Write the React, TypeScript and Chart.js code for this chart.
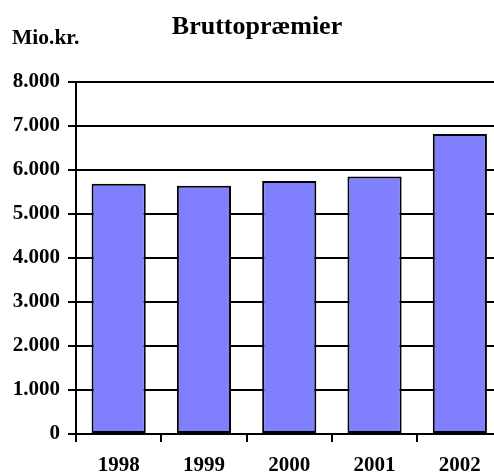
import React, { useEffect, useRef } from "react";
import { Chart, registerables } from "chart.js";

Chart.register(...registerables);

const categories = ["1998", "1999", "2000", "2001", "2002"];
const premiums = [5690, 5640, 5750, 5850, 6820];
const yTicks = [0, 1000, 2000, 3000, 4000, 5000, 6000, 7000, 8000];
const titleText = "Bruttopræmier";
const unitText = "Mio.kr.";

function fmt(v: number): string {
  const s = Math.round(v).toString();
  return s.replace(/\B(?=(\d{3})+(?!\d))/g, ".");
}

const FONT = "'Liberation Serif', 'Times New Roman', serif";

export default function App() {
  const ref = useRef<HTMLCanvasElement | null>(null);

  useEffect(() => {
    if (!ref.current) return;
    const textPlugin = {
      id: "texts",
      afterDraw(chart: any) {
        const ctx = chart.ctx;
        ctx.save();
        ctx.fillStyle = "#000";
        ctx.textBaseline = "alphabetic";
        ctx.textAlign = "center";
        ctx.font = `bold 26px ${FONT}`;
        ctx.fillText(titleText, 257, 34);
        ctx.textAlign = "left";
        ctx.font = `bold 21.5px ${FONT}`;
        ctx.fillText(unitText, 12, 44);
        ctx.restore();
      },
    };
    const chart = new Chart(ref.current, {
      type: "bar",
      data: {
        labels: categories,
        datasets: [
          {
            data: premiums,
            backgroundColor: "#8080FF",
            borderColor: "#000",
            borderWidth: 2,
            borderSkipped: false,
            barPercentage: 0.635,
            categoryPercentage: 1,
          },
        ],
      },
      options: {
        animation: false,
        responsive: false,
        maintainAspectRatio: false,
        layout: { padding: { top: 82, right: 2.5, left: 0, bottom: 0 } },
        plugins: {
          legend: { display: false },
          tooltip: { enabled: false },
          title: { display: false },
        },
        scales: {
          x: {
            afterFit: (s: any) => {
              s.height = 39;
            },
            grid: {
              offset: true,
              drawOnChartArea: false,
              color: "#000",
              lineWidth: 2,
              tickLength: 8,
            },
            border: { display: true, color: "#000", width: 2 },
            ticks: {
              color: "#000",
              padding: 11,
              font: { family: FONT, size: 21, weight: "bold" },
            },
          },
          y: {
            min: 0,
            max: 8000,
            afterFit: (s: any) => {
              s.width = 76;
            },
            afterBuildTicks: (s: any) => {
              s.ticks = yTicks.map((v) => ({ value: v }));
            },
            grid: {
              color: "#000",
              lineWidth: 2,
              tickLength: 8,
            },
            border: { display: true, color: "#000", width: 2 },
            ticks: {
              color: "#000",
              padding: 8,
              callback: (v: any) => fmt(Number(v)),
              font: { family: FONT, size: 21, weight: "bold" },
            },
          },
        },
      },
      plugins: [textPlugin],
    });
    return () => chart.destroy();
  }, []);

  return (
    <div
      style={{
        position: "fixed",
        left: 0,
        top: 0,
        width: 494,
        height: 473,
        overflow: "hidden",
        background: "#fff",
      }}
    >
      <canvas ref={ref} width={505} height={473} style={{ width: 505, height: 473 }} />
    </div>
  );
}
